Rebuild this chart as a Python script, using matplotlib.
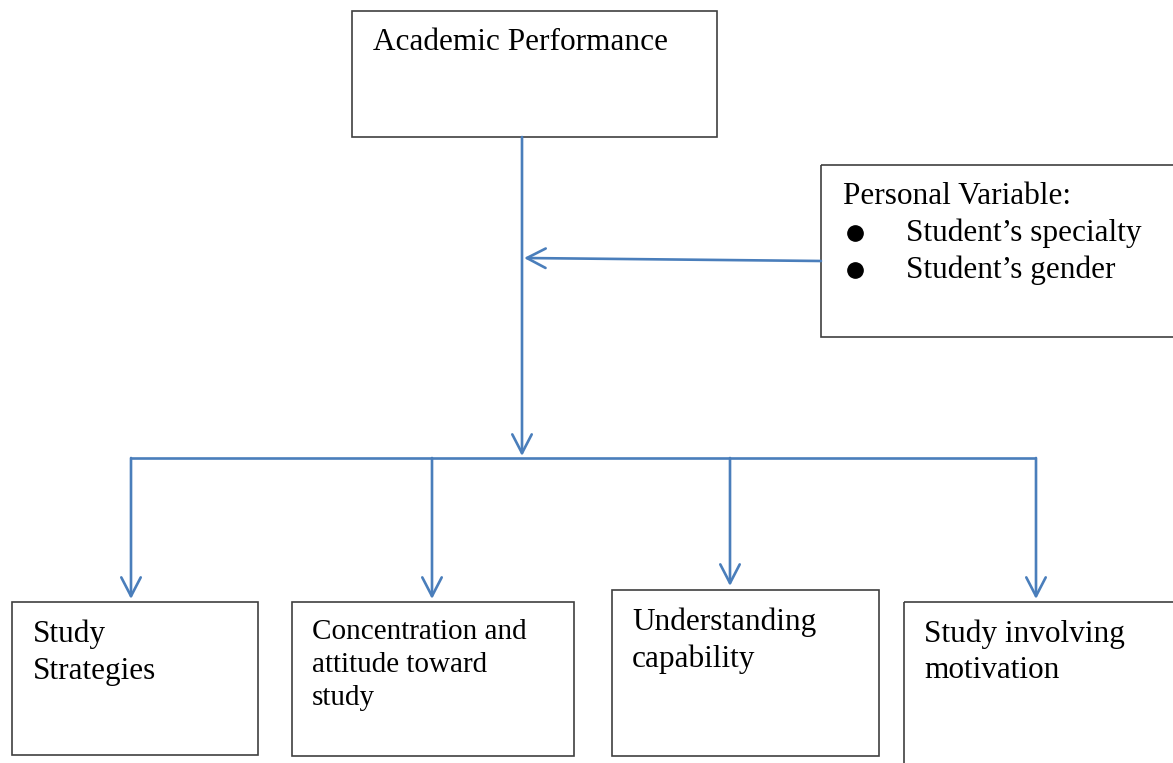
import matplotlib.pyplot as plt
from matplotlib.patches import Rectangle

plt.rcParams['font.family'] = ['Liberation Serif', 'DejaVu Serif']

# texts
top_label = "Academic Performance"
side_title = "Personal Variable:"
side_items = ["Student\u2019s specialty", "Student\u2019s gender"]
bottom_labels = [
    ["Study", "Strategies"],
    ["Concentration and", "attitude toward", "study"],
    ["Understanding", "capability"],
    ["Study involving", "motivation"],
]

blue = '#4a7ebb'
edge = '#404040'

fig = plt.figure(figsize=(11.73, 7.63), dpi=100)
ax = fig.add_axes([0, 0, 1, 1])
ax.set_xlim(0, 1173)
ax.set_ylim(763, 0)
ax.axis('off')


def box(x, y, w, h):
    ax.add_patch(Rectangle((x, y), w, h, fill=False, ec=edge, lw=1.2))


def arrow(x0, y0, x1, y1):
    ax.annotate('', xy=(x1, y1), xytext=(x0, y0),
                arrowprops=dict(arrowstyle='->,head_length=1.35,head_width=0.7',
                                color=blue, lw=1.9, shrinkA=0, shrinkB=0))


# top box
box(352, 11, 365, 126)
ax.text(373, 42, top_label, fontsize=22.5, va='center')

# side box
box(821, 165, 360, 172)
ax.text(843, 196, side_title, fontsize=22.5, va='center')
for i, s in enumerate(side_items):
    yy = 233 + i * 37
    ax.plot(855, yy, 'o', color='black', ms=11)
    ax.text(906, yy, s, fontsize=22.5, va='center')

# connectors
arrow(522, 137, 522, 456)
arrow(821, 261, 524, 258)
ax.plot([131, 1036], [458, 458], color=blue, lw=1.9, solid_capstyle='butt')
drops = [(131, 599), (432, 599), (730, 586), (1036, 599)]
for x, yend in drops:
    arrow(x, 458, x, yend)

# bottom boxes
bottom_boxes = [(12, 602, 246, 153), (292, 602, 282, 154), (612, 590, 267, 166), (904, 602, 280, 170)]
text_pos = [(33, 634, 37, 22.5), (312, 632, 33, 21), (632, 622, 37, 22.5), (924, 634, 36, 22.5)]
for (x, y, w, h), (tx, ty, step, fs), lines in zip(bottom_boxes, text_pos, bottom_labels):
    box(x, y, w, h)
    for i, s in enumerate(lines):
        ax.text(tx, ty + i * step, s, fontsize=fs, va='center')

fig.savefig('out.png', dpi=100)
